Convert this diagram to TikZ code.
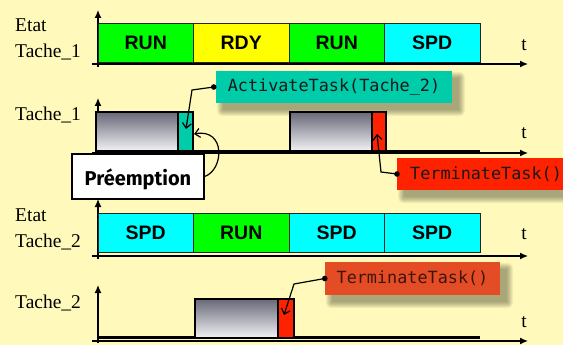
\documentclass[tikz,border=0pt]{standalone}
\usepackage{fontspec}
\setmainfont{Liberation Serif}
\newfontfamily\statefam{Liberation Sans}
\newfontfamily\monofam{DejaVu Sans Mono}
\newfontfamily\prefam{Fira Sans}
\usetikzlibrary{arrows.meta}
\pgfdeclarelayer{bg}
\pgfsetlayers{bg,main}
\definecolor{bgyellow}{RGB}{255,250,187}
\definecolor{stgreen}{RGB}{0,255,0}
\definecolor{styellow}{RGB}{255,255,0}
\definecolor{stcyan}{RGB}{0,255,255}
\definecolor{actteal}{RGB}{0,204,170}
\definecolor{termred}{RGB}{255,34,0}
\definecolor{termorange}{RGB}{228,76,38}
\definecolor{termtext}{RGB}{60,22,12}
\definecolor{graytop}{RGB}{104,104,120}
\definecolor{graybot}{RGB}{242,242,246}
\tikzset{
  axisline/.style={line width=1.2pt,-{Latex[length=8pt,width=7pt]}},
  baseline/.style={line width=3pt},
  statebox/.style={draw=black!85,line width=0.9pt,minimum width=95.5pt,minimum height=39pt,inner sep=0pt,font=\statefam\bfseries\fontsize{19.5}{22}\selectfont},
  rowlabel/.style={anchor=base west,inner sep=0pt,font=\fontsize{19.5}{22}\selectfont},
  tlabel/.style={inner sep=0pt,font=\fontsize{19.5}{22}\selectfont},
  taskbar/.style={draw=black,line width=2.5pt,top color=graytop,bottom color=graybot,minimum height=39pt,inner sep=0pt},
  endbar/.style={draw=black,line width=1.2pt,minimum height=39pt,inner sep=0pt},
  callout/.style={inner sep=0pt,minimum height=32pt,font=\monofam\fontsize{16.8}{20}\selectfont},
  conn/.style={line width=1.2pt,-{Straight Barb[length=5pt,width=9pt]}},
  dotc/.style={fill=black},
}
\begin{document}
\begin{tikzpicture}[x=1pt,y=-1pt]
\begin{pgfonlayer}{bg}
\fill[bgyellow] (0,0) rectangle (563,345);
\end{pgfonlayer}
\useasboundingbox (0,0) rectangle (563,345);
\clip (0,0) rectangle (563,345);

% ---------- Row 1 : Etat Tache_1 ----------
\node[rowlabel] (l1a) at (15,32) {Etat};
\node[rowlabel] (l1b) at (15,58) {Tache\_1};
\draw[axisline] (92,64) -- (528,64);
\draw[axisline] (98,67) -- (98,10);
\node[statebox,fill=stgreen]  (s11) at (145.75,42.5) {RUN};
\node[statebox,fill=styellow] (s12) at (241.25,42.5) {RDY};
\node[statebox,fill=stgreen]  (s13) at (336.75,42.5) {RUN};
\node[statebox,fill=stcyan]   (s14) at (432.25,42.5) {SPD};
\node[tlabel] (t1) at (524,45) {t};

% ---------- Row 2 : Tache_1 timeline ----------
\node[rowlabel] (l2) at (15,121) {Tache\_1};
\draw[axisline] (92,153) -- (528,153);
\draw[axisline] (98,151) -- (98,98);
\draw[baseline] (96,151) -- (480,151);
\node[taskbar,minimum width=82pt] (g1) at (137,131.5) {};
\node[endbar,fill=actteal,minimum width=15pt] (e1) at (185.5,131.5) {};
\node[taskbar,minimum width=82pt] (g2) at (331,131.5) {};
\node[endbar,fill=termred,minimum width=14pt] (e2) at (379,131.5) {};
\node[tlabel] (t2) at (524,133) {t};

% ---------- Row 3 : Etat Tache_2 ----------
\node[rowlabel] (l3a) at (15,221) {Etat};
\node[rowlabel] (l3b) at (15,247) {Tache\_2};
\draw[axisline] (92,256) -- (528,256);
\draw[axisline] (98,259) -- (98,199);
\node[statebox,fill=stcyan]  (s21) at (145.75,232.5) {SPD};
\node[statebox,fill=stgreen] (s22) at (241.25,232.5) {RUN};
\node[statebox,fill=stcyan]  (s23) at (336.75,232.5) {SPD};
\node[statebox,fill=stcyan]  (s24) at (432.25,232.5) {SPD};
\node[tlabel] (t3) at (524,234) {t};

% ---------- Row 4 : Tache_2 timeline ----------
\node[rowlabel] (l4) at (15,308) {Tache\_2};
\draw[axisline] (92,341) -- (528,341);
\draw[axisline] (98,343) -- (98,285);
\draw[baseline] (98,337) -- (480,337);
\node[taskbar,minimum width=83pt] (g3) at (236.5,318.5) {};
\node[endbar,fill=termred,minimum width=16pt] (e3) at (286,318.5) {};
\node[tlabel] (t4) at (524,322) {t};

% ---------- Callouts ----------
\node[callout,fill=actteal,text=black!90,minimum width=236pt] (act) at (334,87) {ActivateTask(Tache\_2)};
\node[callout,fill=termred,text=black!90,anchor=west,inner xsep=13pt] (term1) at (397,174) {TerminateTask()};
\node[callout,fill=termorange,text=termtext,minimum width=175pt,minimum height=33pt] (term2) at (412.5,278.5) {TerminateTask()};
\node[draw=black,line width=1.2pt,fill=white,minimum width=132pt,minimum height=45pt,inner sep=0pt,
      text height=20pt,text depth=3pt,
      font=\prefam\bfseries\fontsize{20}{22}\selectfont] (pre) at (138,176.5) {Préemption};

% shadows
\begin{pgfonlayer}{bg}
\foreach \n in {act,term1,term2}{
  \foreach \i in {0,1,...,6}{
    \fill[black,opacity=0.055,rounded corners=\i pt]
      ([xshift={(7-\i)*1pt},yshift={-(7-\i)*1pt}]\n.north west) rectangle
      ([xshift={(7+\i)*1pt},yshift={-(7+\i)*1pt}]\n.south east);
  }
}
\end{pgfonlayer}

% ---------- Connectors ----------
\coordinate (a1) at (192,90);
\coordinate (a2) at (186,129);
\fill[dotc] ([xshift=-2pt]act.west) circle (2.8pt);
\draw[conn] ([xshift=-2pt]act.west) -- (a1) -- (a2);

\coordinate (b1) at (381,172);
\coordinate (b2) at (377,134);
\fill[dotc] (term1.west) circle (2.8pt);
\draw[conn] (term1.west) -- (b1) -- (b2);

\coordinate (c1) at (294,284);
\coordinate (c2) at (284,315);
\fill[dotc] (term2.west) circle (2.8pt);
\draw[conn] (term2.west) -- (c1) -- (c2);

\coordinate (p1) at (194,134);
\draw[conn] (pre.east) .. controls (224,170) and (226,128) .. (p1);
\end{tikzpicture}
\end{document}
